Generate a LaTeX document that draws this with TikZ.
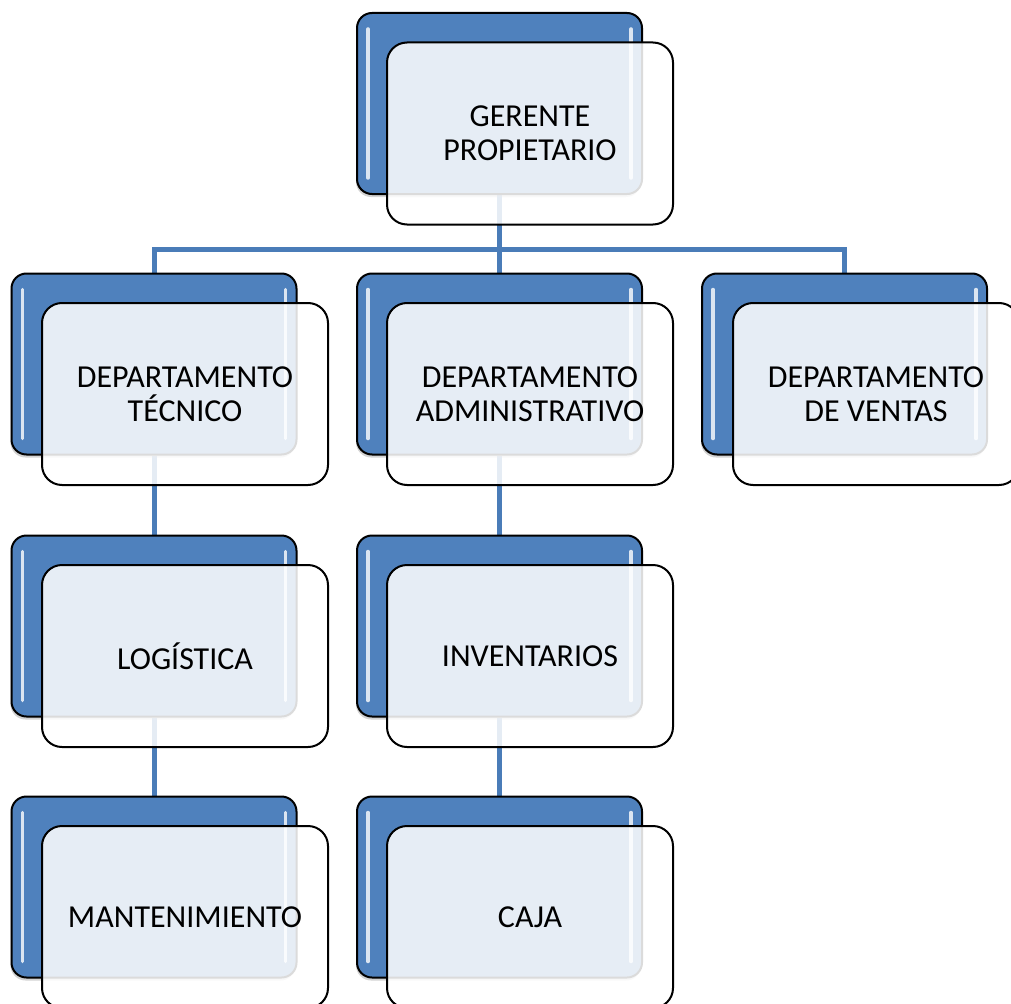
\documentclass[tikz,border=0pt]{standalone}
\usepackage{fontspec}
\setmainfont{Carlito}
\usetikzlibrary{shadows}
\definecolor{accent}{HTML}{4F81BD}
\definecolor{conn}{HTML}{4A7CB8}
\pgfdeclarelayer{background}
\pgfsetlayers{background,main}
\begin{document}
\begin{tikzpicture}[x=1pt,y=-1pt,
  backbox/.style={rounded corners=15pt, draw=black, line width=2pt, fill=accent,
    minimum width=285pt, minimum height=181pt, inner sep=0pt,
    drop shadow={shadow xshift=-1pt, shadow yshift=-3pt, opacity=0.35},
    path picture={
      \draw[white, opacity=0.8, line width=3.5pt, line cap=round]
        ([xshift=11pt,yshift=-16pt]path picture bounding box.north west) --
        ([xshift=11pt,yshift=16pt]path picture bounding box.south west);
      \draw[white, opacity=0.8, line width=3.5pt, line cap=round]
        ([xshift=-11pt,yshift=-16pt]path picture bounding box.north east) --
        ([xshift=-11pt,yshift=16pt]path picture bounding box.south east);
    }},
  frontbox/.style={rounded corners=20pt, draw=black, line width=2pt, fill=white,
    fill opacity=0.86, text opacity=1, draw opacity=1,
    minimum width=286pt, minimum height=182pt, inner sep=0pt, align=center,
    font=\fontsize{32}{34}\selectfont},
  link/.style={draw=conn, line width=5pt, line join=miter}]
\useasboundingbox (0,0) rectangle (1011,1003);
% back boxes
\node[backbox] (gb) at (499.5,103.5) {};
\node[backbox] (tb) at (154,364) {};
\node[backbox] (ab) at (499.5,364) {};
\node[backbox] (vb) at (844.5,364) {};
\node[backbox] (lb) at (154,626) {};
\node[backbox] (ib) at (499.5,626) {};
\node[backbox] (mb) at (154,887) {};
\node[backbox] (cb) at (499.5,887) {};
% connectors
\coordinate (bar) at (0,249);
\begin{pgfonlayer}{background}
\draw[link] (gb.south) -- (gb.south |- bar);
\draw[link] (tb.north) -- (tb.north |- bar) -- (vb.north |- bar) -- (vb.north);
\draw[link] (ab.north |- bar) -- (ab.north);
\draw[link] (tb.south) -- (lb.north);
\draw[link] (lb.south) -- (mb.north);
\draw[link] (ab.south) -- (ib.north);
\draw[link] (ib.south) -- (cb.north);
\end{pgfonlayer}
% front boxes
\node[frontbox] (g) at (530,133.5) {GERENTE\\PROPIETARIO};
\node[frontbox] (t) at (185,394) {DEPARTAMENTO\\TÉCNICO};
\node[frontbox] (a) at (530,394) {DEPARTAMENTO\\ADMINISTRATIVO};
\node[frontbox] (v) at (876,394) {DEPARTAMENTO\\DE VENTAS};
\node[frontbox] (l) at (185,656) {LOGÍSTICA};
\node[frontbox] (i) at (530,656) {INVENTARIOS};
\node[frontbox] (m) at (185,917) {MANTENIMIENTO};
\node[frontbox] (c) at (530,917) {CAJA};
\end{tikzpicture}
\end{document}
